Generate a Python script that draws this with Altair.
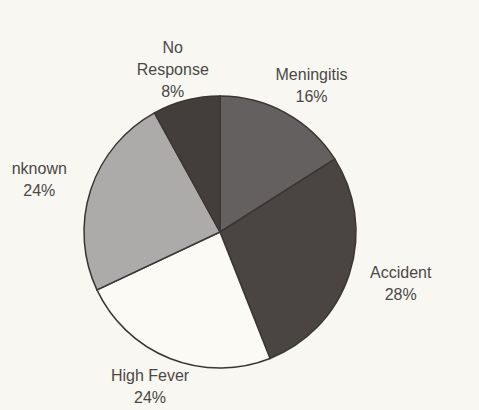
import altair as alt
import pandas as pd

categories = ["Meningitis", "Accident", "High Fever", "Unknown", "No Response"]
labels = ["Meningitis\n16%", "Accident\n28%", "High Fever\n24%", "nknown\n24%", "No\nResponse\n8%"]
values = [16, 28, 24, 24, 8]
colors = ["#646060", "#4a4543", "#fbfaf5", "#adaba9", "#433e3c"]

df = pd.DataFrame({"cat": categories, "label": labels, "value": values, "order": list(range(len(values)))})

W, H = 440, 356
RX, RY = 190, 167  # label ellipse radii (px)
LH = 22  # line height (px)

pie = alt.Chart(df).mark_arc(outerRadius=136, stroke="#3a3634", strokeWidth=1.5).encode(
    theta=alt.Theta("value:Q", stack=True),
    order=alt.Order("order:Q"),
    color=alt.Color("cat:N", scale=alt.Scale(domain=categories, range=colors), legend=None),
)

text = alt.Chart(df).transform_window(
    cum="sum(value)", sort=[alt.SortField("order")], frame=[None, 0]
).transform_joinaggregate(
    total="sum(value)"
).transform_calculate(
    ang="2*PI*(datum.cum - datum.value/2)/datum.total",
    nl="length(split(datum.label, '\\n'))",
).transform_calculate(
    lx="sin(datum.ang)",
    ly=f"cos(datum.ang) + (datum.nl - 1) * {LH / 2} / {RY}",
).mark_text(
    lineBreak="\n", font="Liberation Sans", fontSize=16,
    color="#4a4846", align="center", baseline="middle", lineHeight=LH
).encode(
    x=alt.X("lx:Q", scale=alt.Scale(domain=[-W / 2 / RX, W / 2 / RX], nice=False, zero=False), axis=None),
    y=alt.Y("ly:Q", scale=alt.Scale(domain=[-H / 2 / RY, H / 2 / RY], nice=False, zero=False), axis=None),
    text="label:N",
)

chart = (pie + text).properties(
    width=W, height=H,
    padding={"left": 0, "top": 54, "right": 39, "bottom": 0},
    autosize=alt.AutoSizeParams(type="none"),
    background="#f9f7f1",
).configure_view(stroke=None)

chart.save("out.html", embed_options={"renderer": "svg", "actions": False})
